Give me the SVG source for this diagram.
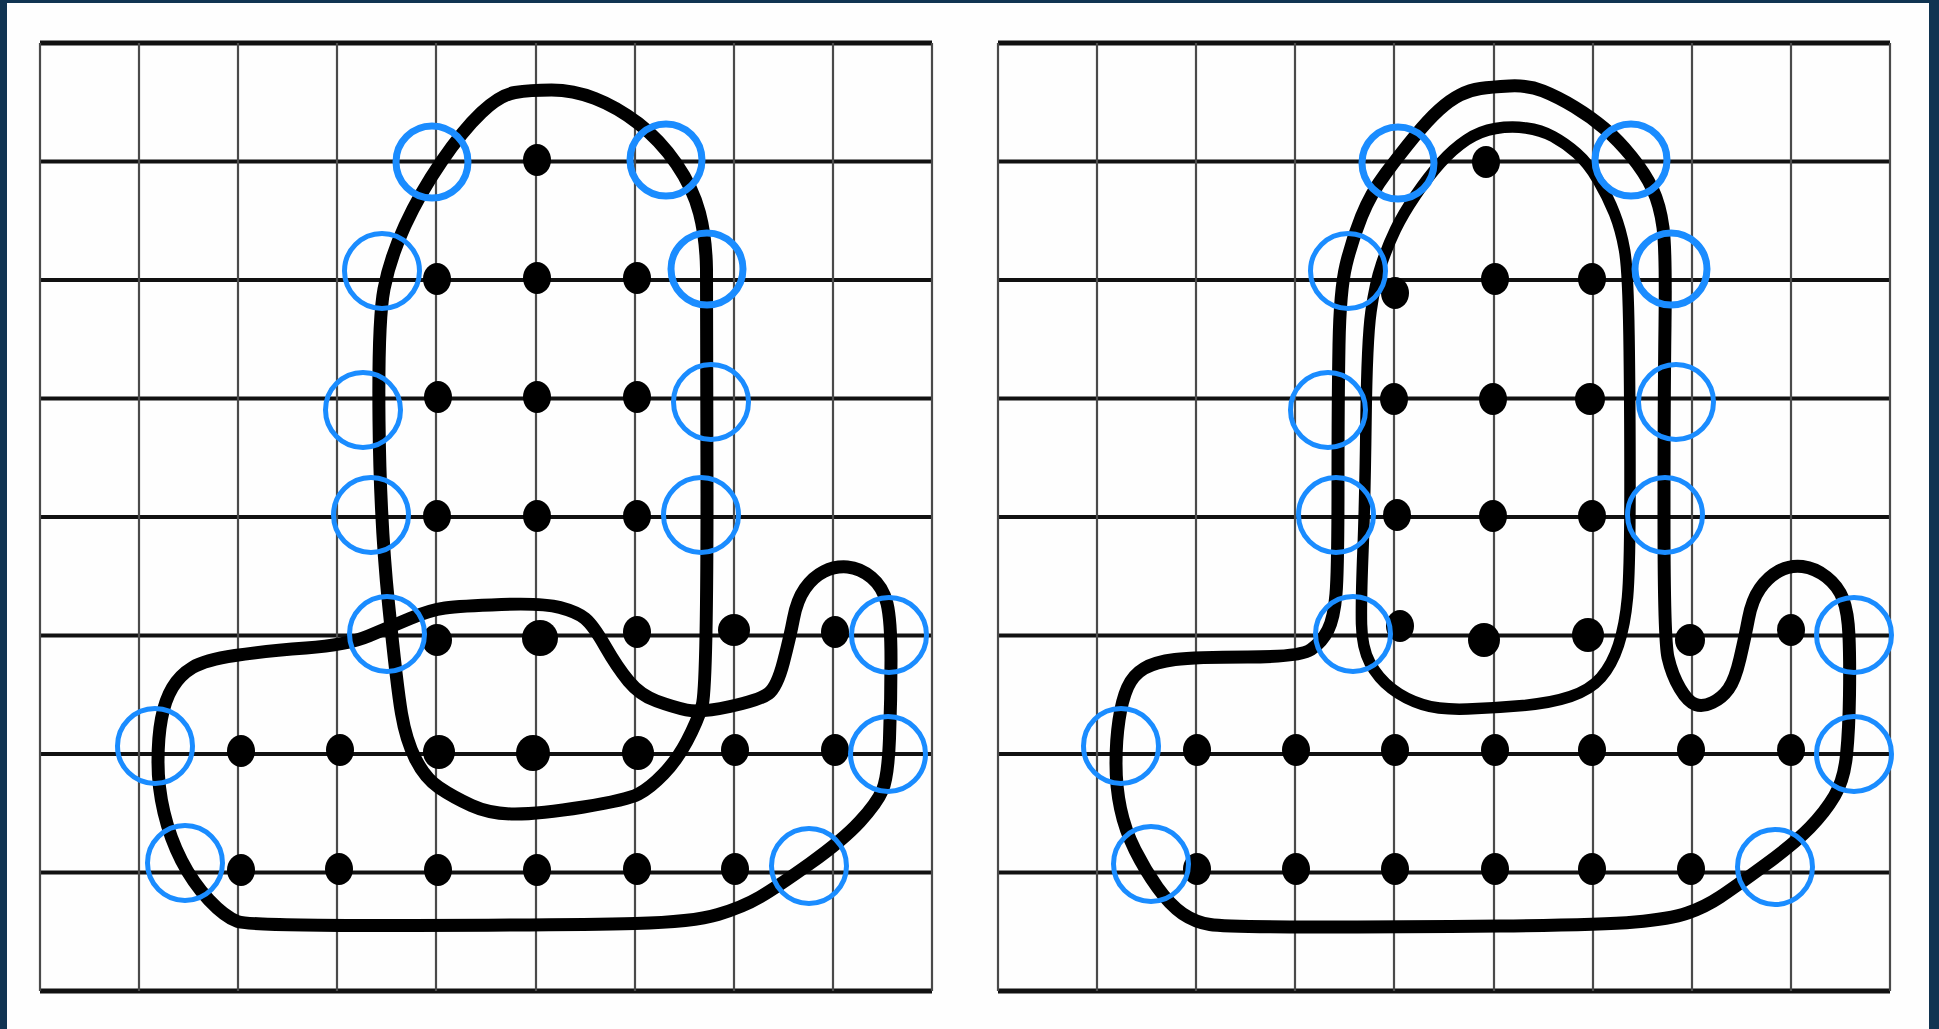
<svg xmlns="http://www.w3.org/2000/svg" width="1939" height="1029" viewBox="0 0 1939 1029">
<style>
.h{stroke:#111;stroke-width:4;fill:none}
.hb{stroke:#111;stroke-width:5;fill:none}
.v{stroke:#4a4a4a;stroke-width:2.2;fill:none}
.cv{stroke:#000;stroke-width:13;fill:none;stroke-linejoin:round;stroke-linecap:round}
.cvt{stroke:#000;stroke-width:11.5;fill:none;stroke-linejoin:round;stroke-linecap:round}
.d{fill:#000}
.c{fill:none;stroke:#1a8cff;stroke-width:5}
.ct{fill:none;stroke:#1a8cff;stroke-width:7}
</style>
<defs>
<g id="grid">
<path class="hb" d="M40,43H932"/>
<path class="h" d="M40,161.5H932M40,280H932M40,398.5H932M40,517H932M40,635.5H932M40,754H932M40,872.5H932"/>
<path class="hb" d="M40,991H932"/>
<path class="v" d="M40,43V991M139,43V991M238,43V991M337,43V991M436,43V991M536,43V991M635,43V991M734,43V991M833,43V991M932,43V991"/>
</g>
</defs>
<rect width="1939" height="1029" fill="#103452"/>
<rect x="7" y="3" width="1922" height="1026" fill="#fefefe"/>

<g id="left-panel">
<use href="#grid"/>
<g id="left-dots">
<ellipse class="d" cx="537" cy="160" rx="14" ry="16"/>
<ellipse class="d" cx="437" cy="279" rx="14" ry="16"/>
<ellipse class="d" cx="537" cy="278" rx="14" ry="16"/>
<ellipse class="d" cx="637" cy="278" rx="14" ry="16"/>
<ellipse class="d" cx="438" cy="397" rx="14" ry="16"/>
<ellipse class="d" cx="537" cy="397" rx="14" ry="16"/>
<ellipse class="d" cx="637" cy="397" rx="14" ry="16"/>
<ellipse class="d" cx="437" cy="516" rx="14" ry="16"/>
<ellipse class="d" cx="537" cy="516" rx="14" ry="16"/>
<ellipse class="d" cx="637" cy="516" rx="14" ry="16"/>
<ellipse class="d" cx="437" cy="640" rx="15" ry="16"/>
<ellipse class="d" cx="540" cy="638" rx="18" ry="18"/>
<ellipse class="d" cx="637" cy="632" rx="14" ry="16"/>
<ellipse class="d" cx="734" cy="630" rx="16" ry="16"/>
<ellipse class="d" cx="835" cy="632" rx="14" ry="16"/>
<ellipse class="d" cx="241" cy="751" rx="14" ry="16"/>
<ellipse class="d" cx="340" cy="750" rx="14" ry="16"/>
<ellipse class="d" cx="439" cy="752" rx="16" ry="17"/>
<ellipse class="d" cx="533" cy="753" rx="17" ry="18"/>
<ellipse class="d" cx="638" cy="753" rx="16" ry="17"/>
<ellipse class="d" cx="735" cy="750" rx="14" ry="16"/>
<ellipse class="d" cx="835" cy="750" rx="14" ry="16"/>
<ellipse class="d" cx="241" cy="870" rx="14" ry="16"/>
<ellipse class="d" cx="339" cy="869" rx="14" ry="16"/>
<ellipse class="d" cx="438" cy="870" rx="14" ry="16"/>
<ellipse class="d" cx="537" cy="870" rx="14" ry="16"/>
<ellipse class="d" cx="637" cy="869" rx="14" ry="16"/>
<ellipse class="d" cx="735" cy="869" rx="14" ry="16"/>
</g>
<g id="left-curves">
<path class="cv" d="M515,92.5 Q530,90 551.5,90 Q573,90 595,98.5 Q617,107 638.5,123.5 Q660,140 676.5,164 Q693,188 699.5,213 Q706,238 706.5,269 Q707,300 707,495 Q707,690 702,706 Q697,722 687,741 Q677,760 663.5,774 Q650,788 638.5,794 Q627,800 583.5,807 Q540,814 515,814 Q490,814 471.5,805.5 Q453,797 439,787.5 Q425,778 415.5,759 Q406,740 401.5,713.5 Q397,687 388.5,603.5 Q380,520 379,420 Q378,320 384,289 Q390,258 405,225.5 Q420,193 441.5,161.5 Q463,130 481.5,112.5 Q500,95 515,92.5 Z"/>
<path class="cv" d="M445,608 Q460,606 501.5,604.5 Q543,603 560,607.5 Q577,612 585,618.5 Q593,625 605,646 Q617,667 628.5,681 Q640,695 656.5,701 Q673,707 686.5,710 Q700,713 730,706.5 Q760,700 768.5,693.5 Q777,687 783.5,662 Q790,637 793.5,618.5 Q797,600 805,588.5 Q813,577 824,571.5 Q835,566 847.5,567 Q860,568 871.5,577.5 Q883,587 887,603.5 Q891,620 891,660 Q891,700 889.5,738.5 Q888,777 882.5,790 Q877,803 860,821.5 Q843,840 810,863.5 Q777,887 760,897 Q743,907 718,914.5 Q693,922 635,923.5 Q577,925 413.5,925.5 Q250,926 237.5,921.5 Q225,917 209,900 Q193,883 181.5,860.5 Q170,838 164,812.5 Q158,787 158,762 Q158,737 161.5,718.5 Q165,700 172.5,687.5 Q180,675 192.5,667.5 Q205,660 235,655.5 Q265,651 306,648 Q347,645 368.5,636 Q390,627 410,618.5 Q430,610 445,608 Z"/>
</g>
<g id="left-circles">
<circle class="ct" cx="432" cy="162" r="36"/>
<circle class="ct" cx="666" cy="160" r="36"/>
<circle class="c" cx="382" cy="271" r="37.5"/>
<circle class="ct" cx="707" cy="269" r="36"/>
<circle class="c" cx="363" cy="410" r="37.5"/>
<circle class="c" cx="711" cy="402" r="37.5"/>
<circle class="c" cx="371" cy="515" r="37.5"/>
<circle class="c" cx="701" cy="515" r="37.5"/>
<circle class="c" cx="387" cy="634" r="37.5"/>
<circle class="c" cx="889" cy="635" r="37.5"/>
<circle class="c" cx="155" cy="746" r="37.5"/>
<circle class="c" cx="888" cy="754" r="37.5"/>
<circle class="c" cx="185" cy="863" r="37.5"/>
<circle class="c" cx="809" cy="866" r="37.5"/>
</g>
</g>

<g id="right-panel">
<use href="#grid" x="958"/>
<g id="right-dots">
<ellipse class="d" cx="1486" cy="162" rx="14" ry="16"/>
<ellipse class="d" cx="1395" cy="293" rx="14" ry="16"/>
<ellipse class="d" cx="1495" cy="279" rx="14" ry="16"/>
<ellipse class="d" cx="1592" cy="279" rx="14" ry="16"/>
<ellipse class="d" cx="1394" cy="399" rx="14" ry="16"/>
<ellipse class="d" cx="1493" cy="399" rx="14" ry="16"/>
<ellipse class="d" cx="1590" cy="399" rx="15" ry="16"/>
<ellipse class="d" cx="1397" cy="515" rx="14" ry="16"/>
<ellipse class="d" cx="1493" cy="516" rx="14" ry="16"/>
<ellipse class="d" cx="1592" cy="516" rx="14" ry="16"/>
<ellipse class="d" cx="1400" cy="626" rx="14" ry="16"/>
<ellipse class="d" cx="1484" cy="640" rx="16" ry="17"/>
<ellipse class="d" cx="1588" cy="635" rx="16" ry="17"/>
<ellipse class="d" cx="1690" cy="640" rx="15" ry="16"/>
<ellipse class="d" cx="1791" cy="630" rx="14" ry="16"/>
<ellipse class="d" cx="1197" cy="750" rx="14" ry="16"/>
<ellipse class="d" cx="1296" cy="750" rx="14" ry="16"/>
<ellipse class="d" cx="1395" cy="750" rx="14" ry="16"/>
<ellipse class="d" cx="1495" cy="750" rx="14" ry="16"/>
<ellipse class="d" cx="1592" cy="750" rx="14" ry="16"/>
<ellipse class="d" cx="1691" cy="750" rx="14" ry="16"/>
<ellipse class="d" cx="1791" cy="750" rx="14" ry="16"/>
<ellipse class="d" cx="1197" cy="869" rx="14" ry="16"/>
<ellipse class="d" cx="1296" cy="869" rx="14" ry="16"/>
<ellipse class="d" cx="1395" cy="869" rx="14" ry="16"/>
<ellipse class="d" cx="1495" cy="869" rx="14" ry="16"/>
<ellipse class="d" cx="1592" cy="869" rx="14" ry="16"/>
<ellipse class="d" cx="1691" cy="869" rx="14" ry="16"/>
</g>
<g id="right-curves">
<path class="cv" d="M1480.5,88.5 Q1491,87 1509.5,86 Q1528,85 1543,91 Q1558,97 1574.5,107 Q1591,117 1604.5,128.5 Q1618,140 1631.5,156.5 Q1645,173 1652.5,189 Q1660,205 1663,227.5 Q1666,250 1665,325 Q1664,400 1664,520 Q1664,640 1668,657.5 Q1672,675 1680,688.5 Q1688,702 1695.5,704.5 Q1703,707 1712.5,702.5 Q1722,698 1728.5,689 Q1735,680 1740,658.5 Q1745,637 1748.5,618.5 Q1752,600 1760,588.5 Q1768,577 1779,571 Q1790,565 1802.5,566.5 Q1815,568 1826.5,577 Q1838,586 1843,599 Q1848,612 1849,636 Q1850,660 1849.5,695 Q1849,730 1846.5,755 Q1844,780 1834.5,796 Q1825,812 1810,827.5 Q1795,843 1765,865 Q1735,887 1720,897 Q1705,907 1687.5,913 Q1670,919 1635,922 Q1600,925 1500,926 Q1400,927 1312.5,927 Q1225,927 1210,924.5 Q1195,922 1182.5,913.5 Q1170,905 1157.5,887.5 Q1145,870 1135,850 Q1125,830 1120.5,808.5 Q1116,787 1116,763.5 Q1116,740 1119,720 Q1122,700 1127.5,687.5 Q1133,675 1144,668.5 Q1155,662 1175,659.5 Q1195,657 1247.5,657 Q1300,657 1311,649.5 Q1322,642 1328,630 Q1334,618 1336,594 Q1338,570 1338,485 Q1338,400 1339,345 Q1340,290 1346,265 Q1352,240 1361.5,216.5 Q1371,193 1386,173 Q1401,153 1414.5,136.5 Q1428,120 1439,110 Q1450,100 1460,95 Q1470,90 1480.5,88.5 Z"/>
<path class="cvt" d="M1495.5,128.5 Q1511,126 1526,128 Q1541,130 1553,136.5 Q1565,143 1576.5,153 Q1588,163 1598,180 Q1608,197 1614.5,213.5 Q1621,230 1624.5,250 Q1628,270 1629,335 Q1630,400 1630,485 Q1630,570 1627.5,597.5 Q1625,625 1618.5,645 Q1612,665 1601,677.5 Q1590,690 1570.5,696.5 Q1551,703 1523,705.5 Q1495,708 1467.5,709 Q1440,710 1422.5,704.5 Q1405,699 1391.5,688.5 Q1378,678 1370,663 Q1362,648 1361.5,624 Q1361,600 1363,550 Q1365,500 1366,420 Q1367,340 1371,311.5 Q1375,283 1381.5,264 Q1388,245 1395.5,229.5 Q1403,214 1415.5,195.5 Q1428,177 1440.5,163 Q1453,149 1466.5,140 Q1480,131 1495.5,128.5 Z"/>
</g>
<g id="right-circles">
<circle class="ct" cx="1398" cy="163" r="36"/>
<circle class="ct" cx="1631" cy="160" r="36"/>
<circle class="c" cx="1348" cy="271" r="37.5"/>
<circle class="ct" cx="1671" cy="269" r="36"/>
<circle class="c" cx="1328" cy="410" r="37.5"/>
<circle class="c" cx="1676" cy="402" r="37.5"/>
<circle class="c" cx="1336" cy="515" r="37.5"/>
<circle class="c" cx="1665" cy="515" r="37.5"/>
<circle class="c" cx="1353" cy="634" r="37.5"/>
<circle class="c" cx="1854" cy="635" r="37.5"/>
<circle class="c" cx="1121" cy="746" r="37.5"/>
<circle class="c" cx="1854" cy="754" r="37.5"/>
<circle class="c" cx="1151" cy="864" r="37.5"/>
<circle class="c" cx="1775" cy="867" r="37.5"/>
</g>
</g>
</svg>
